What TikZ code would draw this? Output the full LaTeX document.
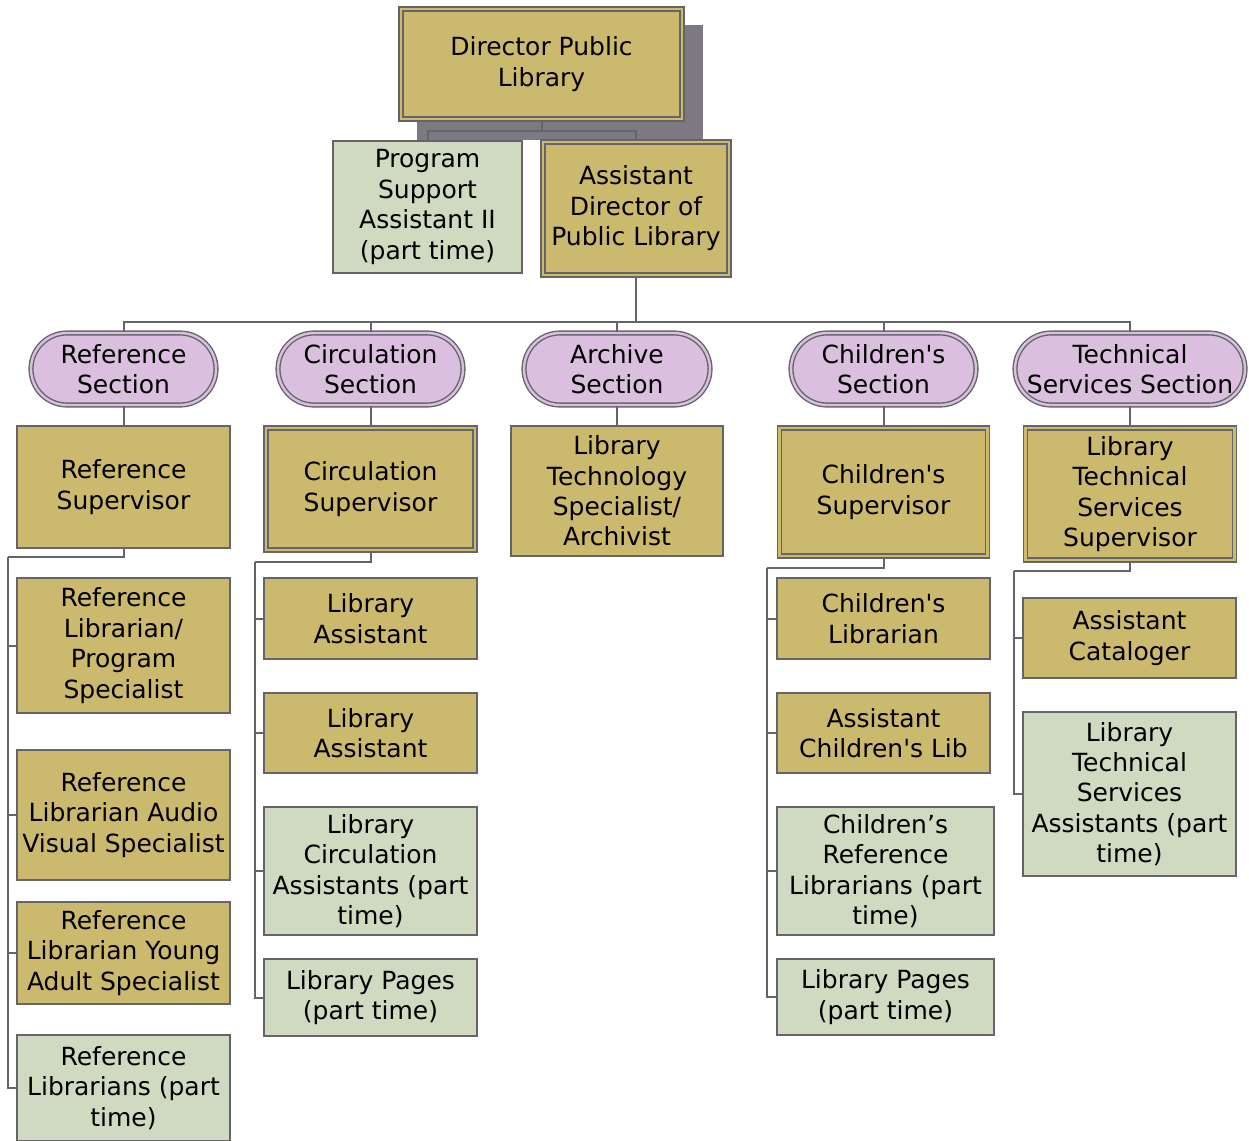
\documentclass[tikz,border=0pt]{standalone}
\usepackage{fontspec}
\setmainfont{DejaVu Sans}[Ligatures=TeXOff]
\definecolor{gold}{RGB}{203,185,110}
\definecolor{sage}{RGB}{207,218,193}
\definecolor{lilac}{RGB}{218,192,222}
\definecolor{edge}{RGB}{100,100,106}
\definecolor{dirshadow}{RGB}{124,121,128}
\newcommand\orgtext{\fontsize{25}{30.4}\selectfont}
\begin{document}
\begin{tikzpicture}[x=1pt,y=-1pt,
  every node/.style={font=\orgtext, align=center, inner sep=0pt, text=black},
  goldbox/.style={rectangle, fill=gold, draw=edge, line width=1.6pt},
  greenbox/.style={rectangle, fill=sage, draw=edge, line width=1.6pt},
  dblgold/.style={rectangle, fill=gold, draw=edge, line width=1.4pt, double=gold, double distance=2.4pt},
  section/.style={rectangle, rounded corners=36pt, fill=lilac, draw=edge, line width=1.4pt, double=lilac, double distance=2.4pt},
  link/.style={draw=edge, line width=2pt}]
\useasboundingbox (0,0) rectangle (1249,1140);

% shadow behind the director
\fill[dirshadow] (417,25) rectangle (703,140);

% top of the chart
\node[dblgold, minimum width=281pt, minimum height=110pt] (dir) at (541.5,64) {Director Public\\Library};
\node[greenbox, minimum width=189pt, minimum height=132pt] (psa) at (427.5,207) {Program\\Support\\Assistant II\\(part time)};
\node[dblgold, minimum width=186pt, minimum height=133pt] (ad) at (636,208.5) {Assistant\\Director of\\Public Library};

% sections
\node[section, minimum width=185pt, minimum height=72pt] (refS) at (123.5,369) {Reference\\Section};
\node[section, minimum width=185pt, minimum height=72pt] (circS) at (370.5,369) {Circulation\\Section};
\node[section, minimum width=186pt, minimum height=72pt] (arcS) at (617,369) {Archive\\Section};
\node[section, minimum width=185pt, minimum height=72pt] (chS) at (883.5,369) {Children's\\Section};
\node[section, minimum width=230pt, minimum height=72pt] (tsS) at (1130,369) {Technical\\Services Section};

% reference section
\node[goldbox, minimum width=213pt, minimum height=122pt] (refSup) at (123.5,487) {Reference\\Supervisor};
\node[goldbox, minimum width=213pt, minimum height=135pt] (ref1) at (123.5,645.5) {Reference\\Librarian/\\Program\\Specialist};
\node[goldbox, minimum width=213pt, minimum height=130pt] (ref2) at (123.5,815) {Reference\\Librarian Audio\\Visual Specialist};
\node[goldbox, minimum width=213pt, minimum height=102pt] (ref3) at (123.5,953) {Reference\\Librarian Young\\Adult Specialist};
\node[greenbox, minimum width=213pt, minimum height=106pt] (ref4) at (123.5,1088) {Reference\\Librarians (part\\time)};

% circulation section
\node[dblgold, minimum width=209pt, minimum height=122pt] (circSup) at (370.5,489) {Circulation\\Supervisor};
\node[goldbox, minimum width=213pt, minimum height=81pt] (c1) at (370.5,618.5) {Library\\Assistant};
\node[goldbox, minimum width=213pt, minimum height=80pt] (c2) at (370.5,733) {Library\\Assistant};
\node[greenbox, minimum width=213pt, minimum height=128pt] (c3) at (370.5,871) {Library\\Circulation\\Assistants (part\\time)};
\node[greenbox, minimum width=213pt, minimum height=77pt] (c4) at (370.5,997.5) {Library Pages\\(part time)};

% archive section
\node[goldbox, minimum width=212pt, minimum height=130pt] (arc) at (617,491) {Library\\Technology\\Specialist/\\Archivist};

% children's section
\node[dblgold, minimum width=208pt, minimum height=128pt] (chSup) at (883.5,492) {Children's\\Supervisor};
\node[goldbox, minimum width=213pt, minimum height=81pt] (ch1) at (883.5,618.5) {Children's\\Librarian};
\node[goldbox, minimum width=213pt, minimum height=80pt] (ch2) at (883.5,733) {Assistant\\Children's Lib};
\node[greenbox, minimum width=217pt, minimum height=128pt] (ch3) at (885.5,871) {Children’s\\Reference\\Librarians (part\\time)};
\node[greenbox, minimum width=217pt, minimum height=76pt] (ch4) at (885.5,997) {Library Pages\\(part time)};

% technical services section
\node[dblgold, minimum width=209pt, minimum height=132pt] (tsSup) at (1130,494) {Library\\Technical\\Services\\Supervisor};
\node[goldbox, minimum width=213pt, minimum height=80pt] (t1) at (1129.5,638) {Assistant\\Cataloger};
\node[greenbox, minimum width=213pt, minimum height=164pt] (t2) at (1129.5,794) {Library\\Technical\\Services\\Assistants (part\\time)};

% junctions
\coordinate (dirJ) at (541.5,131);
\coordinate (trunk) at (636,322);
\coordinate (refSp) at (8,557);
\coordinate (circSp) at (255,562);
\coordinate (chSp) at (767,568);
\coordinate (tsSp) at (1014,571);

% director connectors
\draw[link] (dir.south) -- (dirJ);
\draw[link] (dirJ) -| (psa.north);
\draw[link] (dirJ) -| (ad.north);

% trunk to sections
\draw[link] (ad.south) -- (trunk);
\foreach \s in {refS,circS,arcS,chS,tsS}
  \draw[link] (trunk) -| (\s.north);

% sections to supervisors
\draw[link] (refS.south) -- (refSup.north);
\draw[link] (circS.south) -- (circSup.north);
\draw[link] (arcS.south) -- (arc.north);
\draw[link] (chS.south) -- (chSup.north);
\draw[link] (tsS.south) -- (tsSup.north);

% supervisors to staff
\draw[link] (refSup.south) |- (refSp);
\foreach \n in {ref1,ref2,ref3,ref4}
  \draw[link] (refSp) |- (\n.west);
\draw[link] (circSup.south) |- (circSp);
\foreach \n in {c1,c2,c3,c4}
  \draw[link] (circSp) |- (\n.west);
\draw[link] (chSup.south) |- (chSp);
\foreach \n in {ch1,ch2,ch3,ch4}
  \draw[link] (chSp) |- (\n.west);
\draw[link] (tsSup.south) |- (tsSp);
\foreach \n in {t1,t2}
  \draw[link] (tsSp) |- (\n.west);
\end{tikzpicture}
\end{document}
